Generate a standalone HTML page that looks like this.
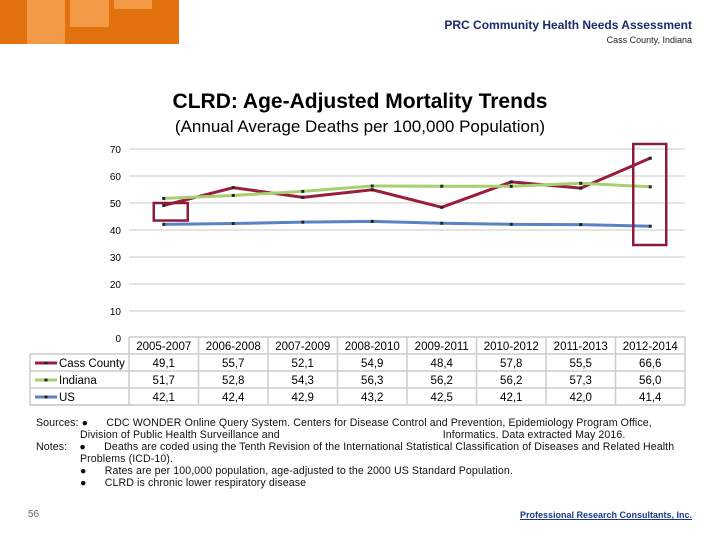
<!DOCTYPE html>
<html><head><meta charset="utf-8"><style>
body{margin:0;width:720px;height:540px;background:#fff;position:relative;overflow:hidden;font-family:"Liberation Sans",sans-serif}
.a{position:absolute;white-space:nowrap}
</style></head><body>
<div class="a" style="left:0;top:0;width:179px;height:44px;background:#e2720e">
<div class="a" style="left:27px;top:0;width:38px;height:44px;background:#f39a46"></div>
<div class="a" style="left:70px;top:0;width:39px;height:27px;background:#f39a46"></div>
<div class="a" style="left:114px;top:0;width:38px;height:9px;background:#f39a46"></div>
</div>
<div class="a" style="right:28px;top:18px;font-size:12px;font-weight:bold;color:#1a2a6c">PRC Community Health Needs Assessment</div>
<div class="a" style="right:28px;top:35px;font-size:9px;color:#222">Cass County, Indiana</div>
<div class="a" style="left:0;width:720px;text-align:center;top:90px;font-size:21px;font-weight:bold">CLRD: Age-Adjusted Mortality Trends</div>
<div class="a" style="left:0;width:720px;text-align:center;top:117px;font-size:17px">(Annual Average Deaths per 100,000 Population)</div>
<svg id="c" class="a" style="left:0;top:0" width="720" height="540"></svg>
<div class="a" style="left:36px;top:417px;font-size:10.6px;line-height:12px;color:#111;letter-spacing:0.1px">
<div>Sources: &#9679; &nbsp;&nbsp;&nbsp;&nbsp;&nbsp;CDC WONDER Online Query System. Centers for Disease Control and Prevention, Epidemiology Program Office,</div>
<div style="padding-left:44px">Division of Public Health Surveillance and <span style="padding-left:160px">Informatics. Data extracted May 2016.</span></div>
<div>Notes: &nbsp;&nbsp;&nbsp;&#9679; &nbsp;&nbsp;&nbsp;&nbsp;&nbsp;Deaths are coded using the Tenth Revision of the International Statistical Classification of Diseases and Related Health</div>
<div style="padding-left:44px">Problems (ICD-10).</div>
<div style="padding-left:44px">&#9679; &nbsp;&nbsp;&nbsp;&nbsp;&nbsp;Rates are per 100,000 population, age-adjusted to the 2000 US Standard Population.</div>
<div style="padding-left:44px">&#9679; &nbsp;&nbsp;&nbsp;&nbsp;&nbsp;CLRD is chronic lower respiratory disease</div>
</div>
<div class="a" style="left:28px;top:509px;font-size:10px;color:#666">56</div>
<div class="a" style="right:28px;top:510px;font-size:9px;font-weight:bold;color:#1a3a8c;text-decoration:underline">Professional Research Consultants, Inc.</div>
<script>
const categories=["2005-2007","2006-2008","2007-2009","2008-2010","2009-2011","2010-2012","2011-2013","2012-2014"];
const cass=[49.1,55.7,52.1,54.9,48.4,57.8,55.5,66.6];
const indiana=[51.7,52.8,54.3,56.3,56.2,56.2,57.3,56.0];
const us=[42.1,42.4,42.9,43.2,42.5,42.1,42.0,41.4];
const yTicks=[0,10,20,30,40,50,60,70];
const seriesNames=["Cass County","Indiana","US"];
const NS="http://www.w3.org/2000/svg",svg=document.getElementById('c');
const x0=129,cw=69.5,yb=338,yt=149;
const X=i=>x0+cw*(i+0.5), Y=v=>yb-(v/70)*(yb-yt);
function el(t,a,p){const e=document.createElementNS(NS,t);for(const k in a)e.setAttribute(k,a[k]);(p||svg).appendChild(e);return e;}
yTicks.forEach(t=>{
 if(t>0){const g=el('line',{x1:x0,x2:x0+cw*8,y1:Y(t),y2:Y(t),stroke:'#c8c8c8'});
 
 }
 const l=el('text',{x:121,y:Y(t)+4,'text-anchor':'end','font-size':10,'font-family':'Liberation Sans'});l.textContent=t;
 
 
});
const cols=['#9b1d3c','#a8cf72','#5a82c8'];
[cass,indiana,us].forEach((s,k)=>{
 const p=el('polyline',{points:s.map((v,i)=>X(i)+','+Y(v)).join(' '),fill:'none',stroke:cols[k],'stroke-width':3});
 
 
 s.forEach((v,i)=>{const m=el('rect',{x:X(i)-1.5,y:Y(v)-1.5,width:3,height:3,fill:'#222'});
 
 });
});
const h1=el('rect',{x:X(0)-10,y:Y(50),width:34,height:Y(43.5)-Y(50),fill:'none',stroke:'#8b1c3a','stroke-width':2.5});


const h2=el('rect',{x:X(7)-17,y:144,width:33,height:101,fill:'none',stroke:'#8b1c3a','stroke-width':2.5});


const rt=[337,354,371,388,405];
for(let i=0;i<=8;i++){el('line',{x1:x0+cw*i,x2:x0+cw*i,y1:337,y2:405,stroke:'#ccc','stroke-width':1.5});}
el('line',{x1:30,x2:x0,y1:405,y2:405,stroke:'#ccc','stroke-width':1.5});
rt.forEach((y,r)=>el('line',{x1:r==0?x0:30,x2:x0+cw*8,y1:y,y2:y,stroke:'#ccc','stroke-width':1.5}));
el('line',{x1:30,x2:30,y1:354,y2:405,stroke:'#ccc','stroke-width':1.5});
categories.forEach((c,i)=>{const t=el('text',{x:X(i),y:350,'text-anchor':'middle','font-size':11.5,'font-family':'Liberation Sans'});t.textContent=c;
 
 });
[cass,indiana,us].forEach((s,k)=>{
 const y=rt[k+1]+13;
 el('line',{x1:35,x2:57,y1:y-4,y2:y-4,stroke:cols[k],'stroke-width':3});
 el('rect',{x:44.5,y:y-5.5,width:3,height:3,fill:'#222'});
 const n=el('text',{x:59,y:y,'font-size':11.5,'font-family':'Liberation Sans'});n.textContent=seriesNames[k];
 
 
 s.forEach((v,i)=>{const t=el('text',{x:X(i),y:y,'text-anchor':'middle','font-size':11.5,'font-family':'Liberation Sans'});t.textContent=v.toFixed(1).replace('.',',');
 
 });
});
</script>
</body></html>
